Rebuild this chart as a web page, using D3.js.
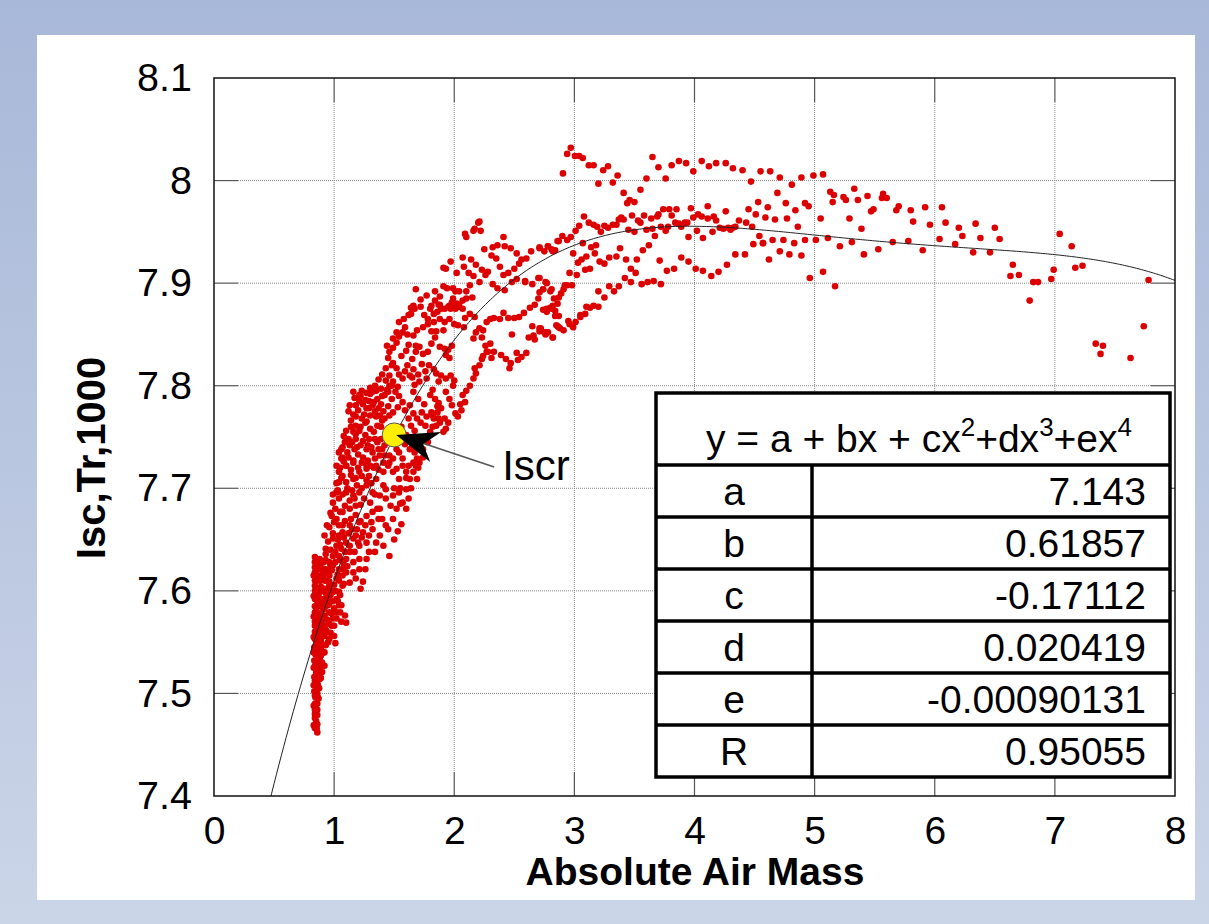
<!DOCTYPE html>
<html><head><meta charset="utf-8">
<script src="https://cdn.jsdelivr.net/npm/d3@7"></script>
<style>body{margin:0;background:#fff}svg{display:block}</style>
</head><body><svg id="c" width="1209" height="924"></svg>
<script>
// ---------------- data ----------------
const xTicks = [0,1,2,3,4,5,6,7,8];
const xTickLabels = ["0","1","2","3","4","5","6","7","8"];
const yTicks = [7.4,7.5,7.6,7.7,7.8,7.9,8.0,8.1];
const yTickLabels = ["7.4","7.5","7.6","7.7","7.8","7.9","8","8.1"];
const xTitle = "Absolute Air Mass";
const yTitle = "Isc,Tr,1000";
const fitCoefficients = [7.143, 0.61857, -0.17112, 0.020419, -0.00090131]; // a..e
const tableLabels = ["a","b","c","d","e","R"];
const tableValues = ["7.143","0.61857","-0.17112","0.020419","-0.00090131","0.95055"];
const iscrPoint = [1.5, 7.752];
const iscrLabel = "Iscr";

// dense vertical strip near AM 0.85
const stripPoints = [
[0.84,7.633],[0.88,7.631],[0.91,7.628],[0.96,7.628],[0.99,7.625],[0.84,7.628],[0.87,7.625],[0.93,7.621],[0.84,7.618],
[0.87,7.612],[0.91,7.615],[0.96,7.615],[1.02,7.612],[0.84,7.605],[0.88,7.599],[0.92,7.602],[0.96,7.605],[0.99,7.599],
[0.84,7.592],[0.87,7.586],[0.91,7.589],[0.95,7.586],[0.84,7.579],[0.88,7.573],[0.92,7.576],[0.96,7.579],[0.91,7.582],
[0.84,7.566],[0.87,7.56],[0.91,7.563],[0.94,7.56],[0.98,7.566],[0.84,7.553],[0.85,7.547],[0.89,7.55],[0.96,7.553],
[0.93,7.547],[0.91,7.54],[0.83,7.54],[0.87,7.534],[0.88,7.534],[0.84,7.527],[0.92,7.527],[0.9,7.521],[0.85,7.518],
[0.88,7.514],[0.83,7.508],[0.86,7.505],[0.84,7.498],[0.87,7.495],[0.83,7.488],[0.85,7.485],[0.86,7.479],[0.84,7.476],
[0.83,7.469],[0.84,7.466],[0.85,7.62],[0.86,7.61],[0.85,7.6],[0.86,7.59],[0.85,7.58],[0.86,7.57],[0.85,7.56],[0.86,7.55],
[0.85,7.54],[0.86,7.53],[0.85,7.52],[0.86,7.51],[0.85,7.5],[0.86,7.49],[0.85,7.48],[0.86,7.47],[0.87,7.575],[0.88,7.59],
[0.89,7.61],[0.9,7.6],[0.92,7.59],[0.94,7.6],[0.95,7.62],[0.97,7.6],[0.89,7.56],[0.9,7.57],[0.88,7.55],[0.83,7.615],
[0.83,7.595],[0.83,7.575],[0.83,7.555],[0.83,7.525],[0.84,7.512],[0.86,7.5],[0.84,7.484],[0.86,7.462],[0.87,7.52],
[0.86,7.54],[0.87,7.545],[0.88,7.565],[0.89,7.585],[0.9,7.62],[0.93,7.61],[0.87,7.6],[0.88,7.61],[0.86,7.625],
[1.04,7.621],[1.1,7.618],[1.16,7.618],[1.21,7.621],[1.18,7.612],[1.13,7.608],[1.07,7.605],[1.04,7.599],[1.02,7.592],
[1.06,7.586],[1.09,7.576],[1.1,7.569],[1.02,7.579],[0.99,7.573],[1.0,7.556],[1.01,7.549],[1.07,7.615],[1.26,7.621],
[1.24,7.609],[1.22,7.602],[1.04,7.586],[1.27,7.631],[1.21,7.631],[1.16,7.628],[1.1,7.631],[1.04,7.634],[0.99,7.634],
[1.13,7.638],[1.29,7.638],[1.34,7.638],
[0.835,7.545],[0.845,7.538],[0.855,7.532],[0.865,7.526],[0.875,7.52],[0.835,7.516],[0.845,7.51],[0.855,7.514],
[0.865,7.508],[0.835,7.502],[0.845,7.496],[0.855,7.49],[0.865,7.496],[0.84,7.49],[0.85,7.473],[0.84,7.48],[0.855,7.466],
[0.845,7.47],[0.86,7.484],[0.835,7.532],[0.87,7.54],[0.84,7.56],[0.84,7.57],[0.84,7.585],[0.84,7.6],[0.84,7.61],[0.84,7.623],
[0.875,7.505],[0.875,7.535],[0.88,7.52],[0.89,7.545],[0.875,7.555]
];
// solid block AM 0.85 – 1.1, Isc 7.52 – 7.63
const denseBlockPoints = [
[0.89,7.628],[0.93,7.63],[0.97,7.624],[1.01,7.628],[1.05,7.63],[1.08,7.626],[0.9,7.622],[0.94,7.617],[0.98,7.62],
[1.03,7.616],[1.07,7.621],[1.11,7.624],[0.88,7.615],[0.92,7.61],[0.96,7.609],[1.0,7.606],[1.04,7.61],[1.08,7.607],
[0.89,7.604],[0.93,7.598],[0.97,7.596],[1.01,7.6],[1.05,7.596],[0.87,7.596],[0.91,7.592],[0.95,7.594],[0.99,7.59],
[1.03,7.59],[0.88,7.585],[0.92,7.583],[0.96,7.588],[1.0,7.583],[1.05,7.579],[0.87,7.578],[0.9,7.576],[0.94,7.572],
[0.98,7.578],[1.02,7.573],[1.06,7.57],[0.88,7.569],[0.92,7.566],[0.96,7.568],[1.0,7.566],[0.87,7.562],[0.9,7.558],
[0.93,7.562],[0.97,7.559],[0.89,7.552],[0.92,7.556],[0.95,7.55],[0.88,7.545],[0.9,7.548],[0.92,7.54],[0.89,7.537],
[0.9,7.53],[0.88,7.525],[0.89,7.515]
];
// rising band AM 0.9 – 1.9, Isc 7.63 – 7.80
const risingPoints = [
[0.92,7.654],[0.94,7.664],[0.93,7.641],[0.99,7.651],[1.02,7.644],[1.06,7.641],[1.1,7.647],[1.07,7.657],[1.13,7.664],
[1.16,7.651],[1.21,7.644],[1.27,7.647],[1.29,7.654],[1.32,7.66],[1.35,7.647],[1.38,7.654],[1.41,7.644],[1.46,7.634],
[1.43,7.664],[1.49,7.67],[1.53,7.658],[1.52,7.68],[1.57,7.686],[1.6,7.699],[1.54,7.696],[1.49,7.693],[1.43,7.69],
[1.38,7.68],[1.32,7.677],[1.27,7.673],[1.21,7.667],[1.18,7.683],[1.13,7.68],[1.07,7.677],[1.04,7.69],[1.02,7.696],
[0.99,7.686],[0.98,7.673],[1.02,7.67],[1.1,7.696],[1.16,7.693],[1.21,7.696],[1.27,7.703],[1.32,7.696],[1.38,7.693],
[1.43,7.699],[1.47,7.683],[1.37,7.67],[1.31,7.667],[1.24,7.657],[1.18,7.654],[1.04,7.654],[1.07,7.664],[1.66,7.716],
[1.68,7.722],[1.71,7.725],[1.63,7.709],[1.54,7.709],[1.49,7.716],[1.41,7.716],[1.35,7.709],[1.29,7.712],[1.21,7.716],
[1.16,7.709],[1.07,7.712],[1.04,7.706],[1.1,7.722],[1.16,7.725],[1.27,7.722],[1.35,7.722],[1.57,7.722],[1.52,7.719],
[1.46,7.725],[1.41,7.703],[1.69,7.709],[1.6,7.716],[1.04,7.735],[1.02,7.722],[1.06,7.729],
[1.66,7.794],[1.7,7.787],[1.75,7.782],[1.73,7.774],[1.69,7.768],[1.66,7.773],[1.63,7.781],[1.59,7.776],[1.62,7.768],
[1.64,7.761],[1.67,7.756],[1.72,7.764],[1.76,7.761],[1.8,7.755],[1.83,7.768],[1.85,7.761],[1.88,7.764],[1.77,7.77],
[1.81,7.774],[1.61,7.748],[1.59,7.743],[1.63,7.738],[1.67,7.735],[1.69,7.729],[1.66,7.725],[1.62,7.722],[1.57,7.729],
[1.54,7.735],[1.52,7.738],[1.49,7.729],[1.45,7.722],[1.41,7.725],[1.38,7.732],[1.34,7.729],[1.3,7.722],[1.27,7.719],
[1.23,7.725],[1.2,7.733],[1.17,7.738],[1.13,7.742],[1.09,7.745],[1.06,7.738],[1.07,7.73],[1.1,7.722],[1.14,7.718],
[1.04,7.716],[1.08,7.751],[1.16,7.755],[1.12,7.748],[1.18,7.748],[1.22,7.742],[1.27,7.738],[1.31,7.74],[1.34,7.748],
[1.39,7.748],[1.42,7.742],[1.37,7.738],[1.42,7.732],[1.46,7.732],[1.69,7.746],[1.74,7.738],[1.71,7.748],
[1.53,7.799],[1.49,7.804],[1.46,7.8],[1.43,7.805],[1.4,7.811],[1.37,7.806],[1.34,7.8],[1.32,7.794],[1.3,7.798],
[1.27,7.793],[1.23,7.795],[1.21,7.791],[1.21,7.785],[1.24,7.782],[1.27,7.778],[1.29,7.785],[1.32,7.781],[1.36,7.787],
[1.39,7.782],[1.42,7.791],[1.45,7.794],[1.48,7.787],[1.51,7.794],[1.54,7.79],[1.57,7.784],[1.53,7.779],[1.49,7.774],
[1.46,7.771],[1.42,7.768],[1.38,7.771],[1.34,7.775],[1.3,7.771],[1.27,7.765],[1.23,7.768],[1.18,7.77],[1.14,7.766],
[1.18,7.761],[1.21,7.756],[1.26,7.752],[1.29,7.748],[1.33,7.755],[1.36,7.761],[1.4,7.766],[1.16,7.794],[1.18,7.781],
[1.13,7.781],[1.39,7.797],
[0.93,7.636],[0.97,7.64],[1.01,7.638],[1.05,7.645],[1.09,7.638],[1.13,7.644],[1.17,7.638],[1.2,7.647],[0.95,7.648],
[0.99,7.656],[1.03,7.65],[1.08,7.652],[1.12,7.656],[1.15,7.66],[1.19,7.66],[1.23,7.652],[0.96,7.662],[1.0,7.667],
[1.04,7.664],[1.09,7.668],[1.14,7.67],[1.18,7.674],[1.22,7.668],[1.26,7.664],[0.97,7.676],[1.01,7.68],[1.05,7.677],
[1.09,7.683],[1.13,7.688],[1.17,7.69],[1.22,7.684],[1.25,7.69],[1.3,7.686],[0.99,7.694],[1.03,7.698],[1.07,7.694],
[1.11,7.7],[1.15,7.698],[1.19,7.703],[1.23,7.7],[1.34,7.694],[1.36,7.68],[1.4,7.67],[1.45,7.66],[1.5,7.65],[1.56,7.665],
[1.6,7.68],[1.55,7.7],[1.62,7.69],
[1.02,7.705],[1.06,7.71],[1.1,7.706],[1.14,7.713],[1.18,7.71],[1.23,7.712],[1.27,7.708],[1.31,7.705],[1.05,7.72],
[1.08,7.726],[1.12,7.73],[1.16,7.727],[1.2,7.72],[1.24,7.73],[1.28,7.727],[1.33,7.72],[1.37,7.718],[1.07,7.74],
[1.11,7.735],[1.15,7.745],[1.19,7.74],[1.24,7.746],[1.28,7.742],[1.32,7.735],[1.36,7.745],[1.4,7.738],[1.1,7.756],
[1.14,7.76],[1.18,7.753],[1.22,7.76],[1.26,7.764],[1.3,7.758],[1.35,7.77],[1.39,7.76],[1.44,7.756],[1.12,7.775],
[1.16,7.772],[1.2,7.776],[1.25,7.772],[1.29,7.778],[1.33,7.784],[1.37,7.778],[1.41,7.775],[1.45,7.78],[1.17,7.788],
[1.22,7.79],[1.26,7.786],[1.3,7.792],[1.35,7.795],[1.4,7.79],[1.44,7.796],[1.48,7.8],
[1.56,7.76],[1.6,7.752],[1.65,7.74],[1.7,7.72],[1.74,7.73],[1.78,7.745],[1.82,7.76],[1.86,7.78],[1.6,7.71],[1.64,7.7],
[1.55,7.685],[1.5,7.7]
];
// upper-left band AM 1.4 – 2.3, Isc 7.76 – 7.90
const upperBandPoints = [
[1.59,7.857],[1.57,7.852],[1.54,7.848],[1.52,7.842],[1.49,7.837],[1.46,7.833],[1.45,7.827],[1.49,7.822],[1.52,7.817],
[1.54,7.811],[1.57,7.807],[1.61,7.82],[1.65,7.826],[1.68,7.833],[1.71,7.838],[1.74,7.831],[1.78,7.833],[1.81,7.841],
[1.84,7.847],[1.88,7.838],[1.92,7.836],[1.95,7.835],[1.98,7.839],[1.93,7.83],[1.96,7.827],[1.68,7.839],[1.66,7.849],
[1.69,7.854],[1.74,7.857],[1.78,7.86],[1.81,7.853],[1.85,7.853],[1.91,7.854],[1.61,7.85],[1.62,7.84],[1.6,7.834],
[1.56,7.829],[1.59,7.814],[1.63,7.81],[1.66,7.816],[1.7,7.811],[1.73,7.821],[1.76,7.814],[1.79,7.82],[1.83,7.816],
[1.77,7.807],[1.71,7.804],[1.67,7.801],[1.65,7.808],[1.46,7.81],[1.43,7.817],[1.48,7.82],[1.44,7.839],[1.49,7.846],
[1.52,7.852],[1.54,7.862],[1.58,7.865],[1.64,7.87],[1.66,7.878],[1.68,7.894],[1.72,7.877],[1.77,7.888],[1.8,7.875],
[1.83,7.87],[1.88,7.879],[1.92,7.875],[1.96,7.878],[1.98,7.876],[2.01,7.875],[2.04,7.877],[2.07,7.883],[1.99,7.885],
[2.01,7.892],[1.88,7.887],[1.84,7.892],[1.64,7.876],[1.62,7.869],[1.72,7.884],[1.67,7.875],[1.75,7.869],[1.78,7.865],
[1.83,7.862],[1.88,7.865],[1.92,7.862],[1.96,7.865],[2.0,7.86],[2.03,7.859],[2.08,7.857],[2.09,7.866],[1.84,7.883],
[1.87,7.879],[1.81,7.878],[1.86,7.872],[1.89,7.875],[1.91,7.897],[1.94,7.895],[1.99,7.895],[2.04,7.892],[2.1,7.892],
[2.13,7.898],[2.15,7.886],[2.1,7.885],[2.04,7.879],[2.0,7.876],[1.97,7.875],[1.95,7.877],[2.07,7.875],[2.02,7.88],
[1.98,7.881],[1.85,7.812],[1.87,7.804],[1.82,7.796],[1.8,7.791],[1.84,7.787],[1.87,7.783],[1.89,7.778],[1.86,7.774],
[1.82,7.771],[1.92,7.768],[1.95,7.764],[1.93,7.758],[1.91,7.755],[1.87,7.768],[1.89,7.81],[1.93,7.807],[1.97,7.81],
[2.0,7.805],[1.99,7.8],[1.93,7.794],[1.96,7.787],[1.98,7.781],[2.05,7.782],[2.01,7.773],[2.03,7.77],[2.06,7.776],
[2.09,7.784],[2.07,7.791],[2.1,7.795],[2.13,7.8],[2.16,7.807],[2.18,7.812],[2.21,7.82],[2.17,7.817],[2.23,7.826],
[2.24,7.829],[2.31,7.827],[2.27,7.833]
];
// band AM 2.0 – 3.2, Isc 7.82 – 7.96
const midBandPoints = [
[2.21,7.96],[2.17,7.953],[2.22,7.951],[2.09,7.948],[2.41,7.945],[2.25,7.933],[2.32,7.935],[2.36,7.937],[2.42,7.936],
[2.47,7.934],[2.52,7.929],[2.56,7.923],[2.6,7.924],[2.64,7.931],[2.71,7.935],[2.78,7.936],[2.86,7.941],[2.82,7.931],
[2.07,7.925],[2.14,7.923],[2.18,7.918],[2.23,7.913],[2.28,7.911],[2.31,7.927],[2.35,7.924],[2.38,7.916],[2.45,7.91],
[2.5,7.914],[2.54,7.919],[2.59,7.902],[2.41,7.908],[1.97,7.921],[1.91,7.915],[1.93,7.914],[2.02,7.91],[2.08,7.916],
[2.12,7.91],[2.16,7.907],[2.21,7.901],[2.26,7.908],[2.32,7.899],[2.36,7.895],[2.42,7.893],[2.48,7.901],[2.52,7.904],
[2.59,7.901],[2.65,7.899],[2.7,7.905],[2.76,7.901],[2.74,7.894],[2.81,7.894],[2.2,7.959],[2.16,7.951],[2.1,7.945],
[2.13,7.87],[2.17,7.867],[2.21,7.856],[2.24,7.854],[2.27,7.862],[2.3,7.865],[2.33,7.866],[2.38,7.865],[2.41,7.871],
[2.45,7.866],[2.5,7.866],[2.54,7.867],[2.58,7.871],[2.63,7.876],[2.67,7.879],[2.7,7.885],[2.77,7.874],[2.81,7.875],
[2.84,7.873],[2.65,7.858],[2.71,7.856],[2.77,7.852],[2.48,7.85],[2.62,7.847],[2.67,7.845],[2.86,7.858],[2.16,7.846],
[2.18,7.852],[2.23,7.847],[2.26,7.839],[2.3,7.841],[2.28,7.833],[2.33,7.833],[2.39,7.83],[2.43,7.826],[2.47,7.822],
[2.52,7.832],[2.56,7.828],[2.6,7.832],[2.46,7.817],[2.53,7.825],[2.66,7.849],[2.71,7.853],[2.76,7.85],[2.82,7.847],
[2.87,7.857],[2.96,7.86],[3.05,7.869],[3.1,7.877],[3.2,7.877],[2.84,7.868],[2.87,7.868],[2.77,7.872]
];
// plateau AM 2.7 – 5.1
const plateauPoints = [
[2.905,8.007],[2.94,8.026],[2.97,8.032],[3.005,8.024],[3.04,8.024],[3.07,8.022],[3.12,8.015],[3.16,8.015],[3.2,7.997],
[3.24,8.01],[3.28,8.014],[3.32,7.998],[3.36,8.005],[3.41,7.988],[3.44,7.978],[3.46,7.981],[3.5,7.979],[3.55,7.991],
[3.6,8.002],[3.65,8.023],[3.70,8.013],[3.76,8.002],[3.81,8.015],[3.87,8.019],[3.93,8.017],[3.99,8.009],[4.06,8.019],
[4.12,8.014],[4.18,8.017],[4.26,8.017],[4.32,8.012],[4.40,8.010],[4.47,7.999],[4.55,8.009],[4.63,8.009],[4.71,8.003],
[4.69,7.988],[4.76,7.978],[4.81,7.996],[4.84,7.971],[4.89,8.003],[4.92,7.978],[4.95,7.975],[4.99,8.005],
[3.04,7.956],[3.08,7.965],[3.12,7.959],[3.16,7.957],[3.19,7.955],[3.22,7.95],[3.25,7.956],[3.28,7.954],[3.32,7.957],
[3.35,7.957],[3.37,7.962],[3.39,7.964],[3.41,7.962],[3.45,7.952],[3.48,7.966],[3.5,7.95],[3.53,7.961],[3.55,7.959],
[3.58,7.966],[3.6,7.952],[3.64,7.963],[3.65,7.953],[3.67,7.946],[3.69,7.965],[3.70,7.967],[3.72,7.955],[3.74,7.972],
[3.76,7.951],[3.78,7.955],[3.79,7.972],[3.81,7.966],[3.84,7.959],[3.85,7.972],[3.87,7.958],[3.89,7.955],[3.92,7.959],
[3.94,7.959],[3.95,7.945],[3.97,7.973],[3.99,7.964],[4.02,7.951],[4.03,7.967],[4.06,7.965],[4.07,7.944],[4.11,7.975],
[4.11,7.963],[4.15,7.95],[4.16,7.965],[4.18,7.961],[4.21,7.954],[4.24,7.953],[4.26,7.97],[4.28,7.954],[4.30,7.952],
[4.32,7.954],[4.34,7.955],[4.37,7.961],[4.43,7.959],[4.45,7.972],[4.48,7.955],[4.51,7.967],[4.53,7.979],[4.54,7.946],
[4.57,7.939],[4.59,7.964],[4.61,7.974],[4.65,7.942],[4.67,7.962],[4.74,7.942],[4.77,7.963],[4.83,7.939],[4.86,7.955],
[4.92,7.942],[5.01,7.942],
[2.71,7.934],[2.75,7.931],[2.78,7.936],[2.81,7.933],[2.84,7.932],[2.87,7.941],[2.9,7.946],[2.94,7.942],[2.97,7.945],
[2.99,7.929],[3.01,7.951],[3.03,7.92],[3.02,7.908],[3.07,7.939],[3.06,7.923],[3.1,7.926],[3.09,7.913],[3.13,7.914],
[3.14,7.935],[3.17,7.929],[3.18,7.937],[3.21,7.921],[3.25,7.919],[3.29,7.925],[3.35,7.926],[3.38,7.934],[3.43,7.923],
[3.47,7.914],[3.51,7.91],[3.52,7.923],[3.57,7.932],[3.62,7.937],[3.71,7.922],[3.77,7.912],[3.83,7.914],[3.89,7.925],
[3.95,7.921],[4.01,7.914],[4.07,7.912],[4.14,7.907],[4.2,7.911],[4.27,7.918],[4.34,7.928],[4.42,7.928],[4.49,7.938],
[4.57,7.939],[4.62,7.923],[4.71,7.931],[4.79,7.928],[4.89,7.927],[4.96,7.905],
[2.71,7.905],[2.74,7.894],[2.77,7.9],[2.8,7.892],[2.83,7.885],[2.87,7.886],[2.89,7.89],[2.91,7.894],[2.92,7.898],
[2.94,7.898],[2.98,7.898],[2.96,7.91],[3.2,7.892],[3.25,7.886],[3.29,7.897],[3.33,7.892],[3.37,7.897],[3.42,7.905],
[3.47,7.901],[3.56,7.899],[3.61,7.901],[3.66,7.902],[3.72,7.899],
[2.71,7.891],[2.74,7.874],[2.77,7.875],[2.8,7.876],[2.82,7.878],[2.86,7.88],[3.13,7.876],[3.16,7.878],[3.09,7.87],
[3.05,7.867],[3.01,7.862],[2.99,7.857],[2.95,7.863],[2.91,7.854],[2.88,7.856],[2.85,7.859],[2.82,7.847],[2.78,7.852],
[2.75,7.852],[2.72,7.856]
];
// tail AM 5 – 8
const tailPoints = [
[5.07,8.006],[5.13,7.989],[5.16,7.986],[5.15,7.979],[5.05,7.963],[5.11,7.944],[5.07,7.911],[5.17,7.897],[5.21,7.936],
[5.24,7.984],[5.26,7.981],[5.29,7.963],[5.31,7.94],[5.33,7.992],[5.36,7.981],[5.39,7.953],[5.41,7.928],[5.44,7.985],
[5.47,7.97],[5.49,7.972],[5.53,7.933],[5.56,7.983],[5.57,7.987],[5.6,7.983],[5.65,7.94],[5.68,7.971],[5.7,7.975],
[5.78,7.941],[5.8,7.971],[5.82,7.96],[5.9,7.932],[5.92,7.974],[5.96,7.957],[6.04,7.943],[6.06,7.974],[6.09,7.959],
[6.17,7.938],[6.2,7.954],[6.23,7.946],[6.32,7.93],[6.34,7.958],[6.38,7.944],[6.46,7.93],[6.5,7.954],[6.54,7.943],
[6.63,7.907],[6.65,7.918],[6.7,7.908],[6.79,7.883],[6.82,7.901],[6.86,7.901],[6.97,7.904],[6.99,7.913],[7.04,7.948],
[7.14,7.936],[7.17,7.915],[7.23,7.917],[7.34,7.841],[7.38,7.831],[7.4,7.839],[7.63,7.827],[7.74,7.858],[7.78,7.903]
];

// ---------------- drawing ----------------
const W = 1209, H = 924;
const svg = d3.select("#c");
const FONT = "'Liberation Sans', Arial, Helvetica, sans-serif";

const defs = svg.append("defs");
const grad = defs.append("linearGradient").attr("id","bg").attr("x1",0).attr("y1",0).attr("x2",0).attr("y2",1);
grad.append("stop").attr("offset","0%").attr("stop-color","#a8b8d8");
grad.append("stop").attr("offset","100%").attr("stop-color","#cbd5e8");
svg.append("rect").attr("width",W).attr("height",H).attr("fill","url(#bg)");
svg.append("rect").attr("x",37).attr("y",35).attr("width",1158).attr("height",865).attr("fill","#fff");

const plot = {left:214, right:1175, top:78, bottom:796};
const x = d3.scaleLinear().domain([0,8]).range([plot.left, plot.right]);
const y = d3.scaleLinear().domain([7.4,8.1]).range([plot.bottom, plot.top]);

defs.append("clipPath").attr("id","clip").append("rect")
  .attr("x",plot.left).attr("y",plot.top).attr("width",plot.right-plot.left).attr("height",plot.bottom-plot.top);

// grid (dotted) between inner ticks
const TICK = 24;
const grid = svg.append("g");
xTicks.slice(1,-1).forEach(t=>{
  grid.append("line").attr("x1",x(t)).attr("x2",x(t)).attr("y1",plot.top+TICK).attr("y2",plot.bottom-TICK)
    .attr("stroke","#8a8a8a").attr("stroke-width",1).attr("stroke-dasharray","1,1");
  grid.append("line").attr("x1",x(t)).attr("x2",x(t)).attr("y1",plot.bottom).attr("y2",plot.bottom-TICK).attr("stroke","#555").attr("stroke-width",1.2);
  grid.append("line").attr("x1",x(t)).attr("x2",x(t)).attr("y1",plot.top).attr("y2",plot.top+TICK).attr("stroke","#555").attr("stroke-width",1.2);
});
yTicks.slice(1,-1).forEach(t=>{
  grid.append("line").attr("y1",y(t)).attr("y2",y(t)).attr("x1",plot.left+TICK).attr("x2",plot.right-TICK)
    .attr("stroke","#8a8a8a").attr("stroke-width",1).attr("stroke-dasharray","1,1");
  grid.append("line").attr("y1",y(t)).attr("y2",y(t)).attr("x1",plot.left).attr("x2",plot.left+TICK).attr("stroke","#555").attr("stroke-width",1.2);
  grid.append("line").attr("y1",y(t)).attr("y2",y(t)).attr("x1",plot.right).attr("x2",plot.right-TICK).attr("stroke","#555").attr("stroke-width",1.2);
});

// scatter
const allPoints = [].concat(stripPoints, denseBlockPoints, risingPoints, upperBandPoints, midBandPoints, plateauPoints, tailPoints);
svg.append("g").attr("clip-path","url(#clip)").selectAll("circle").data(allPoints).join("circle")
  .attr("cx",d=>x(d[0])).attr("cy",d=>y(d[1])).attr("r",3.3).attr("fill","#dd0000");

// fitted polynomial curve
const poly = v => fitCoefficients.reduce((s,c,i)=>s + c*Math.pow(v,i), 0);
const curveX = d3.range(0, 8.0001, 0.02);
svg.append("path").attr("clip-path","url(#clip)")
  .datum(curveX)
  .attr("d", d3.line().x(v=>x(v)).y(v=>y(poly(v))))
  .attr("fill","none").attr("stroke","#222").attr("stroke-width",1);

// frame
svg.append("rect").attr("x",plot.left).attr("y",plot.top).attr("width",plot.right-plot.left).attr("height",plot.bottom-plot.top)
  .attr("fill","none").attr("stroke","#111").attr("stroke-width",1.5);

// axes labels
const xAxis = d3.axisBottom(x).tickValues(xTicks).tickFormat((d,i)=>xTickLabels[i]).tickSize(0).tickPadding(20);
const gx = svg.append("g").attr("transform",`translate(0,${plot.bottom})`).call(xAxis);
gx.select(".domain").remove();
gx.selectAll("text").attr("font-family",FONT).attr("font-size",39).attr("fill","#000");

const yAxis = d3.axisLeft(y).tickValues(yTicks).tickFormat((d,i)=>yTickLabels[i]).tickSize(0).tickPadding(22);
const gy = svg.append("g").attr("transform",`translate(${plot.left},0)`).call(yAxis);
gy.select(".domain").remove();
gy.selectAll("text").attr("font-family",FONT).attr("font-size",39.5).attr("fill","#000");

// titles
svg.append("text").attr("x",695).attr("y",885).attr("text-anchor","middle")
  .attr("font-family",FONT).attr("font-weight","bold").attr("font-size",39).text(xTitle);
svg.append("text").attr("transform","translate(105,458) rotate(-90)").attr("text-anchor","middle")
  .attr("font-family",FONT).attr("font-weight","bold").attr("font-size",40).text(yTitle);

// Iscr marker + arrow
const px = x(iscrPoint[0]), py = y(iscrPoint[1]);
svg.append("line").attr("x1",px+28).attr("y1",py+8).attr("x2",px+100).attr("y2",py+32)
  .attr("stroke","#555").attr("stroke-width",1.5);
svg.append("circle").attr("cx",px).attr("cy",py).attr("r",12).attr("fill","#ffee00").attr("stroke","#555").attr("stroke-width",1);
svg.append("path").attr("d",`M${px+2},${py} L${px+47},${py-3} L${px+29},${py+9} L${px+36},${py+27} Z`).attr("fill","#000");
svg.append("text").attr("x",px+108).attr("y",py+45).attr("font-family",FONT).attr("font-size",42).text(iscrLabel);

// coefficient table
const tb = {left:656, right:1170, top:393, head:72, row:52, split:812};
const tg = svg.append("g");
const tbBottom = tb.top + tb.head + tb.row*tableLabels.length;
tg.append("rect").attr("x",tb.left).attr("y",tb.top).attr("width",tb.right-tb.left).attr("height",tbBottom-tb.top)
  .attr("fill","#fff").attr("stroke","#000").attr("stroke-width",3.5);
const head = tg.append("text").attr("x",(tb.left+tb.right)/2 + 6).attr("y",tb.top+59).attr("text-anchor","middle")
  .attr("font-family",FONT).attr("font-size",39);
let curShift = 0;
[["y = a + bx + cx",0],["2",1],["+dx",0],["3",1],["+ex",0],["4",1]].forEach(([t,sup])=>{
  const target = sup ? -16 : 0;
  head.append("tspan").attr("font-size",sup?26:39).attr("dy",target-curShift).text(t);
  curShift = target;
});
tg.append("line").attr("x1",tb.split).attr("x2",tb.split).attr("y1",tb.top+tb.head).attr("y2",tbBottom).attr("stroke","#000").attr("stroke-width",3.5);
tableLabels.forEach((lab,i)=>{
  const ry = tb.top + tb.head + i*tb.row;
  tg.append("line").attr("x1",tb.left).attr("x2",tb.right).attr("y1",ry).attr("y2",ry).attr("stroke","#000").attr("stroke-width",3.5);
  tg.append("text").attr("x",(tb.left+tb.split)/2).attr("y",ry+40).attr("text-anchor","middle")
    .attr("font-family",FONT).attr("font-size",39).text(lab);
  tg.append("text").attr("x",tb.right-24).attr("y",ry+40).attr("text-anchor","end")
    .attr("font-family",FONT).attr("font-size",39).text(tableValues[i]);
});
</script></body></html>
